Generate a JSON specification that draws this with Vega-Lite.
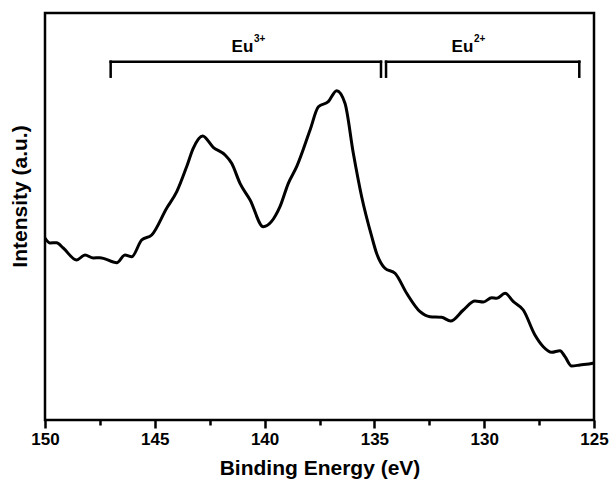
{
  "$schema": "https://vega.github.io/schema/vega-lite/v6.json",
  "width": 549,
  "height": 407,
  "autosize": {"type": "none"},
  "padding": {"left": 45, "top": 13, "right": 18, "bottom": 61},
  "background": "white",
  "config": {
    "view": {"stroke": "black", "strokeWidth": 2.5},
    "font": "Liberation Sans"
  },
  "datasets": {
    "spectrum": [
      {"x": 150.0, "y": 182}, {"x": 149.77, "y": 177}, {"x": 149.47, "y": 177.3}, {"x": 149.17, "y": 172},
      {"x": 148.56, "y": 160}, {"x": 148.18, "y": 165}, {"x": 147.8, "y": 162}, {"x": 147.5, "y": 162.3},
      {"x": 146.73, "y": 157.3}, {"x": 146.36, "y": 165}, {"x": 146.05, "y": 163.3}, {"x": 145.6, "y": 180},
      {"x": 145.14, "y": 185}, {"x": 144.46, "y": 211.7}, {"x": 144.0, "y": 228.3}, {"x": 143.55, "y": 253.3},
      {"x": 143.25, "y": 271.7}, {"x": 142.82, "y": 284}, {"x": 142.34, "y": 272.7}, {"x": 141.8, "y": 265},
      {"x": 141.5, "y": 256.7}, {"x": 141.12, "y": 236.7}, {"x": 140.66, "y": 220}, {"x": 140.06, "y": 193.3},
      {"x": 139.3, "y": 213.3}, {"x": 138.92, "y": 236.7}, {"x": 138.54, "y": 253.3}, {"x": 137.93, "y": 290},
      {"x": 137.55, "y": 313.3}, {"x": 137.1, "y": 318.3}, {"x": 136.72, "y": 329.3}, {"x": 136.34, "y": 316.7},
      {"x": 135.96, "y": 266.7}, {"x": 135.58, "y": 223.3}, {"x": 135.12, "y": 183.3}, {"x": 134.9, "y": 166.7},
      {"x": 134.52, "y": 151.7}, {"x": 134.06, "y": 146.7}, {"x": 133.53, "y": 126.7}, {"x": 132.92, "y": 108.3},
      {"x": 132.47, "y": 103.3}, {"x": 131.94, "y": 102.7}, {"x": 131.53, "y": 99}, {"x": 130.95, "y": 110},
      {"x": 130.42, "y": 119}, {"x": 130.04, "y": 118}, {"x": 129.66, "y": 122.3}, {"x": 129.43, "y": 121.7},
      {"x": 129.05, "y": 126.7}, {"x": 128.67, "y": 118.3}, {"x": 128.22, "y": 110}, {"x": 127.69, "y": 85},
      {"x": 127.31, "y": 73.3}, {"x": 126.93, "y": 67.7}, {"x": 126.55, "y": 69.3}, {"x": 126.32, "y": 63.3},
      {"x": 126.02, "y": 54}, {"x": 125.64, "y": 55}, {"x": 125.06, "y": 56.7}, {"x": 125.0, "y": 57}
    ],
    "brackets": [
      {"x": 147.01, "x2": 134.7, "y": 358.3},
      {"x": 134.47, "x2": 125.67, "y": 358.3}
    ],
    "bracketEnds": [
      {"x": 147.01, "y": 358.3, "y2": 343.3},
      {"x": 134.7, "y": 358.3, "y2": 343.3},
      {"x": 134.47, "y": 358.3, "y2": 343.3},
      {"x": 125.67, "y": 358.3, "y2": 343.3}
    ],
    "labels": [
      {"x": 141.01, "y": 368.3, "base": "Eu", "sup": "3+"},
      {"x": 130.99, "y": 368.3, "base": "Eu", "sup": "2+"}
    ]
  },
  "layer": [
    {
      "data": {"name": "spectrum"},
      "mark": {"type": "line", "color": "black", "strokeWidth": 3, "interpolate": "monotone", "strokeJoin": "round", "clip": true},
      "encoding": {
        "x": {
          "field": "x", "type": "quantitative",
          "scale": {"domain": [125, 150], "reverse": true, "nice": false, "zero": false},
          "axis": {
            "values": [150, 147.5, 145, 142.5, 140, 137.5, 135, 132.5, 130, 127.5, 125],
            "labelExpr": "datum.value % 5 === 0 ? datum.label : ''",
            "tickSize": {"condition": {"test": "datum.value % 5 === 0", "value": 8}, "value": 5},
            "tickWidth": 2.5, "tickColor": "black",
            "labelFontSize": 17, "labelFontWeight": "bold", "labelColor": "black", "labelPadding": 3,
            "labelOverlap": false, "labelFlush": false,
            "title": "Binding Energy (eV)", "titleFontSize": 21, "titleFontWeight": "bold", "titleColor": "black", "titlePadding": 10,
            "grid": false, "domain": false
          }
        },
        "y": {
          "field": "y", "type": "quantitative",
          "scale": {"domain": [0, 407], "nice": false, "zero": false},
          "axis": {
            "title": "Intensity (a.u.)", "titleFontSize": 21, "titleFontWeight": "bold", "titleColor": "black",
            "titlePadding": 15, "titleY": 183, "ticks": false, "labels": false, "domain": false, "grid": false
          }
        }
      }
    },
    {
      "data": {"name": "brackets"},
      "mark": {"type": "rule", "color": "black", "strokeWidth": 2.5, "strokeCap": "square"},
      "encoding": {
        "x": {"field": "x", "type": "quantitative", "scale": {"domain": [125, 150], "reverse": true, "nice": false, "zero": false}},
        "x2": {"field": "x2"},
        "y": {"field": "y", "type": "quantitative", "scale": {"domain": [0, 407], "nice": false, "zero": false}}
      }
    },
    {
      "data": {"name": "bracketEnds"},
      "mark": {"type": "rule", "color": "black", "strokeWidth": 2.5, "strokeCap": "square"},
      "encoding": {
        "x": {"field": "x", "type": "quantitative", "scale": {"domain": [125, 150], "reverse": true, "nice": false, "zero": false}},
        "y": {"field": "y", "type": "quantitative", "scale": {"domain": [0, 407], "nice": false, "zero": false}},
        "y2": {"field": "y2"}
      }
    },
    {
      "data": {"name": "labels"},
      "mark": {"type": "text", "color": "black", "fontSize": 17, "fontWeight": "bold", "align": "center", "baseline": "alphabetic"},
      "encoding": {
        "x": {"field": "x", "type": "quantitative", "scale": {"domain": [125, 150], "reverse": true, "nice": false, "zero": false}},
        "y": {"field": "y", "type": "quantitative", "scale": {"domain": [0, 407], "nice": false, "zero": false}},
        "text": {"field": "base"}
      }
    },
    {
      "data": {"name": "labels"},
      "mark": {"type": "text", "color": "black", "fontSize": 10, "fontWeight": "bold", "align": "left", "baseline": "alphabetic", "dx": 11.5, "dy": -9.5},
      "encoding": {
        "x": {"field": "x", "type": "quantitative", "scale": {"domain": [125, 150], "reverse": true, "nice": false, "zero": false}},
        "y": {"field": "y", "type": "quantitative", "scale": {"domain": [0, 407], "nice": false, "zero": false}},
        "text": {"field": "sup"}
      }
    }
  ]
}
